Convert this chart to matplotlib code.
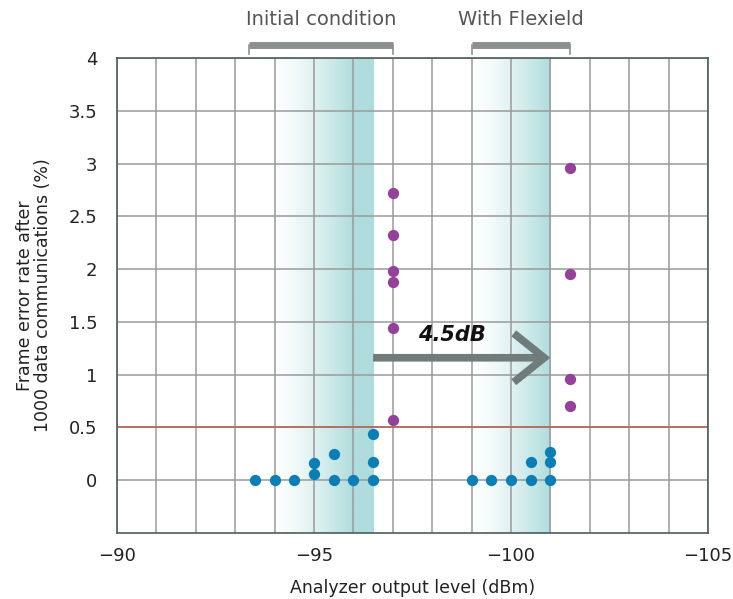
import numpy as np
import matplotlib
matplotlib.use("Agg")
import matplotlib.pyplot as plt
from matplotlib.ticker import MultipleLocator
from matplotlib.colors import to_rgb

# ---- data ----
init_ok_x = [-93.5, -94.0, -94.5, -95.0, -95.0, -95.5, -95.5, -96.0, -96.5, -96.5, -96.5]
init_ok_y = [0.0, 0.0, 0.0, 0.06, 0.16, 0.0, 0.25, 0.0, 0.0, 0.17, 0.44]
init_ng_x = [-97.0, -97.0, -97.0, -97.0, -97.0, -97.0]
init_ng_y = [2.72, 2.32, 1.98, 1.88, 1.44, 0.57]
flex_ok_x = [-99.0, -99.5, -100.0, -100.5, -100.5, -101.0, -101.0, -101.0]
flex_ok_y = [0.0, 0.0, 0.0, 0.0, 0.17, 0.0, 0.17, 0.27]
flex_ng_x = [-101.5, -101.5, -101.5, -101.5]
flex_ng_y = [2.96, 1.95, 0.96, 0.70]
threshold = 0.5
y_ticks = [0, 0.5, 1, 1.5, 2, 2.5, 3, 3.5, 4]
y_tick_labels = ["0", "0.5", "1", "1.5", "2", "2.5", "3", "3.5", "4"]
x_ticks = [-90, -95, -100, -105]
bands = [(-93.9, -96.0, -96.5), (-99.0, -101.0, -101.0)]  # fade start, full colour, end
brackets = [(-93.35, -97.0, "Initial condition"), (-99.0, -101.5, "With Flexield")]
shift_from, shift_to, shift_y, shift_label = -96.5, -101.0, 1.16, "4.5dB"

BLUE = "#0a7fb5"
PURPLE = "#934199"
TEAL = "#afdcdc"

fig = plt.figure(figsize=(7.33, 5.99), dpi=100)
ax = fig.add_axes([0.1596, 0.1102, 0.8063, 0.793])

# gradient bands
teal = np.array(to_rgb(TEAL))
white = np.ones(3)
for x0, x1, x2 in bands:
    xs = np.linspace(x0, x2, 300)
    t = np.clip((xs - x0) / (x1 - x0), 0, 1)
    t = t ** 1.4
    img = white[None, :] * (1 - t[:, None]) + teal[None, :] * t[:, None]
    img = img[None, :, :]
    ax.imshow(img, extent=[x0, x2, -0.5, 4], aspect="auto", zorder=0,
              interpolation="bilinear")
ax.set_xlim(-90, -105)
ax.set_ylim(-0.5, 4)

# grid
ax.xaxis.set_minor_locator(MultipleLocator(1))
ax.set_xticks(x_ticks)
ax.set_yticks(y_ticks)
ax.set_yticklabels(y_tick_labels)
ax.grid(True, which="both", axis="x", color="#9a9a9a", lw=1.1, zorder=1)
ax.grid(True, which="major", axis="y", color="#9a9a9a", lw=1.1, zorder=1)
ax.axhline(threshold, color="#b8675a", lw=1.2, zorder=1.6)

ax.tick_params(axis="both", which="both", length=0, labelsize=13, colors="#222222")
ax.tick_params(axis="x", pad=10)
ax.tick_params(axis="y", pad=14)
for sp in ax.spines.values():
    sp.set_color("#4d5e55")
    sp.set_linewidth(1.2)

# points
kw = dict(s=66, zorder=4, linewidths=0)
ax.scatter(init_ok_x, init_ok_y, color=BLUE, **kw)
ax.scatter(flex_ok_x, flex_ok_y, color=BLUE, **kw)
ax.scatter(init_ng_x, init_ng_y, color=PURPLE, **kw)
ax.scatter(flex_ng_x, flex_ng_y, color=PURPLE, **kw)

# arrow
ax.annotate("", xy=(shift_to, shift_y), xytext=(shift_from, shift_y),
            arrowprops=dict(arrowstyle="->,head_length=1.0,head_width=0.8",
                            color="#6f7c7b", lw=5.5, mutation_scale=22,
                            shrinkA=0, shrinkB=0, joinstyle="miter",
                            capstyle="butt"),
            zorder=5)
ax.text(-98.5, shift_y + 0.12, shift_label,
        fontsize=15, fontweight="bold", fontstyle="italic", ha="center",
        va="bottom", color="#111111", zorder=6)

# brackets
trans = ax.get_xaxis_transform()
for xa, xb, label in brackets:
    ax.plot([xa, xb], [1.027, 1.027], transform=trans, color="#8c9090",
            lw=5, solid_capstyle="butt", clip_on=False)
    for xe in (xa, xb):
        ax.plot([xe, xe], [1.027, 1.008], transform=trans, color="#8c9090",
                lw=1.2, clip_on=False)
    ax.text((xa + xb) / 2, 1.062, label, transform=trans, ha="center",
            va="bottom", fontsize=14, color="#555555")

ax.set_xlabel("Analyzer output level (dBm)", fontsize=12.5, color="#222222",
              labelpad=10)
ax.set_ylabel("Frame error rate after\n1000 data communications (%)",
              fontsize=12.5, color="#222222", labelpad=12, linespacing=1.0)

fig.savefig("out.png", dpi=100)
